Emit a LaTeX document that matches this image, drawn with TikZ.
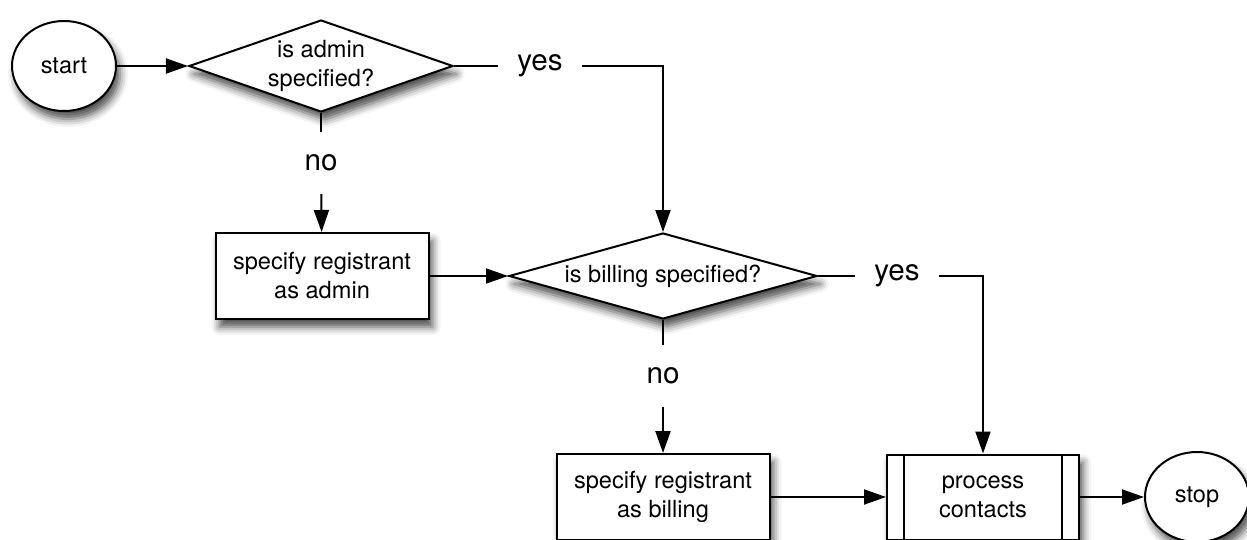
\documentclass[tikz,border=0pt]{standalone}
\usepackage{fontspec}
\setmainfont{TeX Gyre Heros}
\usetikzlibrary{arrows.meta,shapes.geometric,shadows.blur}

\begin{document}
\begin{tikzpicture}[
            x=0.5pt, y=-0.5pt,
            line width=1pt,
            shadowed/.style={blur shadow={shadow xshift=2pt, shadow yshift=-4pt, shadow blur radius=4pt, shadow opacity=70}},
            term/.style={ellipse,draw,fill=white,shadowed,minimum width=52pt,minimum height=45pt,inner sep=0pt,font=\fontsize{11.8pt}{14.5pt}\selectfont},
            decide/.style={diamond,draw,fill=white,shadowed,inner sep=0pt,align=center,font=\fontsize{11.8pt}{14.5pt}\selectfont},
            task/.style={rectangle,draw,fill=white,shadowed,minimum width=106.5pt,minimum height=43pt,align=center,font=\fontsize{11.8pt}{14.5pt}\selectfont},
            answer/.style={inner xsep=9pt,inner ysep=11pt,font=\fontsize{14.8pt}{17pt}\selectfont},
            flow/.style={-{Triangle[length=11pt,width=7.5pt]}}
            ]
            \useasboundingbox (0,0) rectangle (1247,540);
            \node[term] (begin) at (64,66) {start};
            \node[decide,aspect=3,minimum width=132pt,minimum height=46pt] (admin) at (321,66) {is admin\\specified?};
            \node[answer] (yesA) at (540,66) {yes};
            \node[answer] (noA) at (321,163) {no};
            \node[task] (regAdmin) at (322,276) {specify registrant\\as admin};
            \node[decide,aspect=3.6,minimum width=154pt,minimum height=43pt] (billing) at (663,276) {is billing specified?};
            \node[answer] (yesB) at (897,276) {yes};
            \node[answer] (noB) at (663,376) {no};
            \node[task] (regBilling) at (663,497) {specify registrant\\as billing};
            \node[task,minimum width=96pt,minimum height=42.5pt] (process) at (983,497) {process\\contacts};
            \draw ([xshift=9pt]process.north west) -- ([xshift=9pt]process.south west);
            \draw ([xshift=-9pt]process.north east) -- ([xshift=-9pt]process.south east);
            \node[term] (end) at (1197,497) {stop};

            \draw[flow] (begin) -- (admin);
            \draw (admin.east) -- (yesA);
            \draw[flow] (yesA) -| (billing.north);
            \draw (admin.south) -- (noA);
            \draw[flow] (noA) -- (regAdmin);
            \draw[flow] (regAdmin) -- (billing.west);
            \draw (billing.east) -- (yesB);
            \draw[flow] (yesB) -| (process.north);
            \draw (billing.south) -- (noB);
            \draw[flow] (noB) -- (regBilling);
            \draw[flow] (regBilling) -- (process);
            \draw[flow] (process) -- (end);
        \end{tikzpicture}
\end{document}
